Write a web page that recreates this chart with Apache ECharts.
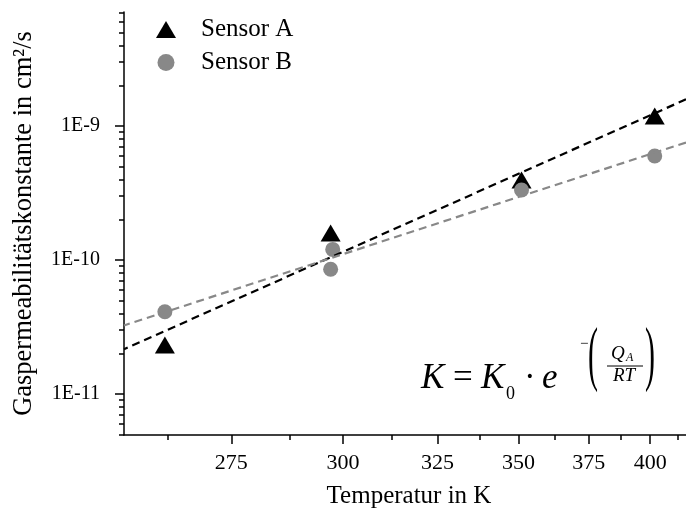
<!DOCTYPE html>
<html>
<head>
<meta charset="utf-8">
<script src="https://cdn.jsdelivr.net/npm/echarts@6/dist/echarts.min.js"></script>
<style>
  html, body { margin: 0; padding: 0; background: #fff; }
  #chart { width: 686px; height: 518px; }
</style>
</head>
<body>
<div id="chart"></div>
<script>
// Measured temperatures (K) and gas permeability constants (cm²/s)
const tempA = [262, 297, 351, 402];
const kA = [2.32e-11, 1.59e-10, 3.95e-10, 1.19e-9];
const tempB = [262, 297.5, 297, 351, 402];
const kB = [4.11e-11, 1.20e-10, 8.53e-11, 3.33e-10, 5.97e-10];

// Axis ticks: temperatures on a reciprocal (Arrhenius) scale, decades on a log scale
const xTickTemps = [275, 300, 325, 350, 375, 400];
const xMinorTemps = [262.5, 287.5, 312.5, 337.5, 362.5, 387.5, 412.5];
const yDecades = [-11, -10, -9];
const tempRange = [254.6, 416.2];
const kRange = [4.94e-12, 7.1e-9];

const FONT = 'Liberation Serif, Times New Roman, serif';
const inv = t => 1000 / t;          // 1000/T
const lg = v => Math.log10(v);

const yMinor = [];
for (let d = -12; d <= -9; d++) {
  for (let m = 2; m <= 9; m++) {
    const v = lg(m) + d;
    if (v >= lg(kRange[0]) && v <= lg(kRange[1])) yMinor.push(v);
  }
}

// Least-squares line of log10(K) against 1000/T
function arrheniusFit(temps, ks) {
  const xs = temps.map(inv), ys = ks.map(lg);
  const n = xs.length;
  const mx = xs.reduce((a, b) => a + b, 0) / n;
  const my = ys.reduce((a, b) => a + b, 0) / n;
  let sxy = 0, sxx = 0;
  for (let i = 0; i < n; i++) { sxy += (xs[i] - mx) * (ys[i] - my); sxx += (xs[i] - mx) ** 2; }
  const slope = sxy / sxx;
  const x0 = inv(tempRange[1]), x1 = inv(tempRange[0]);
  return [[x0, my + slope * (x0 - mx)], [x1, my + slope * (x1 - mx)]];
}

const xMin = inv(tempRange[1]), xMax = inv(tempRange[0]);
const yMin = lg(kRange[0]), yMax = lg(kRange[1]);

const chart = echarts.init(document.getElementById('chart'), null, { renderer: 'canvas' });

const axisBlack = { color: '#000', width: 1.5 };
const GRAY = '#888888';

function formulaText(x, y, text, size, italic, extra) {
  return Object.assign({
    type: 'text', x: x, y: y,
    style: {
      text: text, fontFamily: FONT, fontSize: size, fontStyle: italic ? 'italic' : 'normal',
      fill: '#000', textAlign: 'left', textVerticalAlign: 'middle', align: 'left', verticalAlign: 'middle'
    }
  }, extra || {});
}

chart.setOption({
  animation: false,
  backgroundColor: '#fff',
  grid: { left: 124, right: 0, top: 12, bottom: 83, outerBoundsMode: 'none', containLabel: false },
  legend: {
    orient: 'vertical', left: 151, top: 12,
    itemWidth: 20, itemHeight: 17, itemGap: 8,
    data: [
      { name: 'Sensor A', icon: 'triangle', itemStyle: { color: '#000', opacity: 1 } },
      { name: 'Sensor B', icon: 'circle', itemStyle: { color: GRAY, opacity: 1 } }
    ],
    textStyle: { fontFamily: FONT, fontSize: 25, color: '#000', padding: [0, 0, 0, 20] }
  },
  xAxis: [{
    type: 'value', inverse: true, min: xMin, max: xMax, position: 'bottom',
    axisLine: { show: true, lineStyle: axisBlack },
    axisTick: { show: true, customValues: xTickTemps.map(inv), length: 9, lineStyle: axisBlack },
    axisLabel: {
      customValues: xTickTemps.map(inv), formatter: v => String(Math.round(1000 / v)),
      margin: 17, fontFamily: FONT, fontSize: 22, color: '#000'
    },
    splitLine: { show: false },
    name: 'Temperatur in K', nameLocation: 'middle', nameGap: 49,
    nameTextStyle: { fontFamily: FONT, fontSize: 25, color: '#000', padding: [0, 0, 0, 8] }
  }, {
    type: 'value', inverse: true, min: xMin, max: xMax, position: 'bottom',
    axisLine: { show: false },
    axisTick: { show: true, customValues: xMinorTemps.map(inv), length: 5, lineStyle: axisBlack },
    axisLabel: { show: false },
    splitLine: { show: false }
  }],
  yAxis: [{
    type: 'value', min: yMin, max: yMax, position: 'left',
    axisLine: { show: true, lineStyle: axisBlack },
    axisTick: { show: true, customValues: yDecades, length: 9, lineStyle: axisBlack },
    axisLabel: {
      customValues: yDecades, formatter: v => '1E' + Math.round(v),
      margin: 24, fontFamily: FONT, fontSize: 20, color: '#000'
    },
    splitLine: { show: false },
    name: 'Gaspermeabilitätskonstante in cm²/s', nameLocation: 'middle', nameGap: 86,
    nameTextStyle: { fontFamily: FONT, fontSize: 26.5, color: '#000' }
  }, {
    type: 'value', min: yMin, max: yMax, position: 'left',
    axisLine: { show: false },
    axisTick: { show: true, customValues: yMinor, length: 5, lineStyle: axisBlack },
    axisLabel: { show: false },
    splitLine: { show: false }
  }],
  series: [
    {
      name: 'Sensor A', type: 'scatter', symbol: 'triangle', symbolSize: [20, 17],
      itemStyle: { color: '#000', opacity: 1 }, z: 3,
      data: tempA.map((t, i) => [inv(t), lg(kA[i])])
    },
    {
      name: 'Sensor B', type: 'scatter', symbol: 'circle', symbolSize: 15,
      itemStyle: { color: GRAY, opacity: 1 }, z: 4,
      data: tempB.map((t, i) => [inv(t), lg(kB[i])])
    },
    {
      name: 'Fit A', type: 'line', showSymbol: false, silent: true, z: 5,
      lineStyle: { color: '#000', width: 2.2, type: [8, 5] },
      data: arrheniusFit(tempA, kA)
    },
    {
      name: 'Fit B', type: 'line', showSymbol: false, silent: true, z: 5,
      lineStyle: { color: GRAY, width: 2.2, type: [8, 5] },
      data: arrheniusFit(tempB, kB)
    }
  ],
  graphic: [
    // K = K0 · e^-(QA/RT)
    formulaText(421, 378.5, 'K', 35, true),
    formulaText(453, 378.5, '=', 35, false),
    formulaText(481, 378.5, 'K', 35, true),
    formulaText(506, 394, '0', 18, false),
    formulaText(524, 378.5, '·', 35, false),
    formulaText(542, 378.5, 'e', 35, true),
    formulaText(580, 344, '−', 15, false),
    formulaText(588, 358.5, '(', 30, false, { scaleY: 2.4 }),
    formulaText(611, 354, 'Q', 19, true),
    formulaText(626, 358, 'A', 12, true),
    { type: 'line', shape: { x1: 607, y1: 366, x2: 643, y2: 366 }, style: { stroke: '#000', lineWidth: 1 } },
    formulaText(613, 376, 'RT', 19, true),
    formulaText(645, 358.5, ')', 30, false, { scaleY: 2.4 })
  ]
});
</script>
</body>
</html>
